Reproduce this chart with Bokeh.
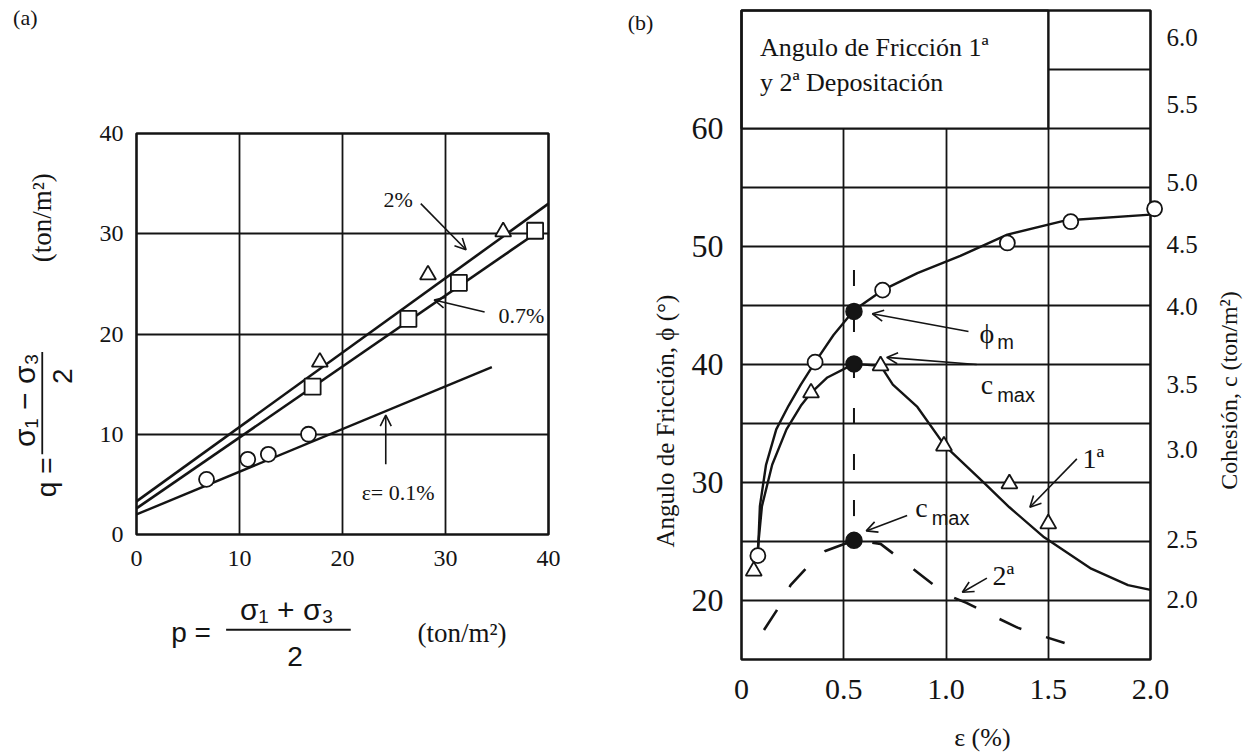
import math

from bokeh.core.properties import value
from bokeh.embed import file_html
from bokeh.layouts import row
from bokeh.models import Arrow, FixedTicker, LinearAxis, OpenHead, Range1d
from bokeh.plotting import figure
from bokeh.resources import INLINE

INK = "#141414"
SERIF = "Liberation Serif"
SANS = "Liberation Sans"

# ---------------- panel (a): q - p stress paths ----------------
a_ticks = [0, 10, 20, 30, 40]

# measured points, strain 0.1 %, 0.7 % and 2 %
p_circle = [6.8, 10.8, 12.8, 16.7]
q_circle = [5.5, 7.5, 8.0, 10.0]
p_square = [17.1, 26.4, 31.3, 38.7]
q_square = [14.75, 21.5, 25.1, 30.3]
p_triangle = [17.8, 28.3, 35.6]
q_triangle = [17.2, 25.9, 30.2]

# straight envelopes through each group (end points)
env_01_p = [0.0, 34.5]
env_01_q = [2.0, 16.7]
env_07_p = [0.0, 38.7]
env_07_q = [2.6, 30.0]
env_2_p = [0.0, 40.0]
env_2_q = [3.3, 33.0]

# ---------------- panel (b): friction angle and cohesion vs strain ----------------
b_x_ticks = [0, 0.5, 1.0, 1.5, 2.0]
b_x_labels = ["0", "0.5", "1.0", "1.5", "2.0"]
b_phi_ticks = [20, 30, 40, 50, 60]
b_phi_grid = [20, 25, 30, 35, 40, 45, 50, 55, 60, 65]
cohesion_labels = ["2.0", "2.5", "3.0", "3.5", "4.0", "4.5", "5.0", "5.5", "6.0"]
cohesion_label_at = [20.05, 25.2, 32.8, 38.3, 44.9, 50.2, 55.4, 62.0, 67.7]

# friction angle, measured
eps_phi = [0.08, 0.36, 0.69, 1.30, 1.61, 2.02]
phi_pts = [23.8, 40.2, 46.3, 50.3, 52.1, 53.2]
# friction angle, smooth trend
eps_phi_curve = [0.08, 0.09, 0.12, 0.17, 0.23, 0.29, 0.36, 0.45, 0.55, 0.69,
                 0.86, 1.07, 1.30, 1.58, 2.0]
phi_curve = [23.8, 28.0, 31.5, 34.5, 36.5, 38.3, 40.2, 42.5, 44.6, 46.3,
             47.75, 49.2, 51.0, 52.2, 52.7]

# cohesion, 1st deposition (drawn on the angle scale)
eps_c1 = [0.06, 0.34, 0.68, 0.99, 1.31, 1.50]
c1_pts = [22.5, 37.6, 39.9, 33.1, 29.9, 26.5]
eps_c1_curve = [0.075, 0.10, 0.15, 0.22, 0.29, 0.34, 0.42, 0.55, 0.68, 0.74,
                0.86, 0.995, 1.19, 1.31, 1.48, 1.71, 1.89, 2.0]
c1_curve = [23.5, 28.0, 31.5, 34.5, 36.5, 37.6, 38.9, 40.05, 39.9, 38.3,
            36.4, 33.1, 29.9, 27.9, 25.35, 22.7, 21.3, 20.9]

# cohesion, 2nd deposition (dashed trend)
eps_c2_curve = [0.11, 0.17, 0.24, 0.32, 0.41, 0.55, 0.68, 0.86, 1.0, 1.1,
                1.23, 1.35, 1.47, 1.58]
c2_curve = [17.5, 19.1, 21.3, 22.8, 24.2, 25.1, 24.8, 22.4, 20.5, 19.8,
            18.7, 17.7, 17.0, 16.4]

# peak values (filled): phi_m, c_max 1st, c_max 2nd
eps_peak = [0.55, 0.55, 0.55]
val_peak = [44.5, 40.05, 25.1]
eps_peak_line = [0.55, 0.55]
val_peak_line = [48.0, 27.0]


def canvas_ranges(width, height, box, x_span, y_span):
    """Ranges for a figure whose frame fills the canvas, so that the data
    box x_span x y_span lands on the pixel box (left, right, top, bottom)."""
    left, right, top, bottom = box
    kx = (x_span[1] - x_span[0]) / (right - left)
    ky = (y_span[1] - y_span[0]) / (bottom - top)
    xr = Range1d(x_span[0] - left * kx, x_span[1] + (width - right) * kx)
    yr = Range1d(y_span[0] - (height - bottom) * ky, y_span[1] + top * ky)
    return xr, yr


def make_panel(width, height, box, x_span, y_span):
    xr, yr = canvas_ranges(width, height, box, x_span, y_span)
    fig = figure(width=width, height=height, x_range=xr, y_range=yr,
                 output_backend="svg", toolbar_location=None,
                 min_border=0, min_border_left=0, min_border_right=0,
                 min_border_top=0, min_border_bottom=0)
    fig.outline_line_color = None
    fig.background_fill_color = "white"
    fig.border_fill_color = "white"
    fig.xaxis.fixed_location = x_span[0] * 0 + y_span[0]
    fig.yaxis.fixed_location = x_span[0]
    for g in fig.grid:
        g.grid_line_color = INK
        g.grid_line_width = 1.8
        g.grid_line_alpha = 1.0
    fig.xgrid.cross_bounds = (y_span[0], y_span[1])
    fig.ygrid.cross_bounds = (x_span[0], x_span[1])
    return fig


def style_axis(ax, size, standoff):
    ax.axis_line_color = None
    ax.major_tick_line_color = None
    ax.minor_tick_line_color = None
    ax.major_label_text_font = SERIF
    ax.major_label_text_font_size = size
    ax.major_label_text_color = INK
    ax.major_label_standoff = standoff


def frame_box(fig, x_span, y_span, width=2.6):
    fig.quad(left=[x_span[0]], right=[x_span[1]], bottom=[y_span[0]], top=[y_span[1]],
             fill_color=None, line_color=INK, line_width=width)


def txt(fig, x, y, text, size, font=SERIF, angle=0.0, align="center",
        baseline="middle"):
    fig.text(x=[x], y=[y], text=[text], text_font=value(font),
             text_font_size=f"{size}px", text_color=INK, angle=angle,
             text_align=align, text_baseline=baseline)


def arrow(fig, x0, y0, x1, y1, head=11, width=1.6):
    fig.add_layout(Arrow(end=OpenHead(size=head, line_color=INK, line_width=width),
                         x_start=x0, y_start=y0, x_end=x1, y_end=y1,
                         line_color=INK, line_width=width))


# ---------- figure (a) ----------
A_SPAN_X, A_SPAN_Y = (0, 40), (0, 40)
fa = make_panel(600, 755, (136, 548, 133, 534), A_SPAN_X, A_SPAN_Y)
fa.xaxis.ticker = FixedTicker(ticks=a_ticks)
fa.yaxis.ticker = FixedTicker(ticks=a_ticks)
fa.xgrid.ticker = FixedTicker(ticks=a_ticks[1:-1])
fa.ygrid.ticker = FixedTicker(ticks=a_ticks[1:-1])
style_axis(fa.xaxis[0], "24px", 10)
style_axis(fa.yaxis[0], "24px", 7)
frame_box(fa, A_SPAN_X, A_SPAN_Y)

fa.line(env_2_p, env_2_q, line_color=INK, line_width=2.6)
fa.line(env_07_p, env_07_q, line_color=INK, line_width=2.6)
fa.line(env_01_p, env_01_q, line_color=INK, line_width=2.4)
fa.scatter(p_circle, q_circle, marker="circle", size=15, fill_color="white",
           line_color=INK, line_width=1.8)
fa.scatter(p_square, q_square, marker="square", size=16, fill_color="white",
           line_color=INK, line_width=1.8)
fa.scatter(p_triangle, q_triangle, marker="triangle", size=16, fill_color="white",
           line_color=INK, line_width=1.8)

txt(fa, 25.4, 33.4, "2%", 22)
txt(fa, 39.6, 21.8, "0.7%", 22, align="right")
txt(fa, 25.4, 4.2, "\u03b5= 0.1%", 22)
arrow(fa, 27.6, 33.0, 32.0, 28.4)
arrow(fa, 33.8, 22.2, 28.9, 23.4)
arrow(fa, 24.2, 7.0, 24.2, 11.9)

# axis titles of (a): q = (s1 - s3)/2 and p = (s1 + s3)/2
up = math.pi / 2
txt(fa, -8.7, 5.7, "q =", 28, font=SANS, angle=up)
txt(fa, -10.9, 13.4, "\u03c3\u2081 \u2212 \u03c3\u2083", 30, font=SANS, angle=up)
fa.line([-9.15, -9.15], [8.0, 18.2], line_color=INK, line_width=1.8)
txt(fa, -7.2, 15.8, "2", 28, font=SANS, angle=up)
txt(fa, -9.2, 31.6, "(ton/m\u00b2)", 27, angle=up)

txt(fa, 5.3, -9.8, "p =", 28, font=SANS)
txt(fa, 14.6, -7.5, "\u03c3\u2081 + \u03c3\u2083", 30, font=SANS)
fa.line([8.7, 20.8], [-9.5, -9.5], line_color=INK, line_width=1.8)
txt(fa, 15.4, -12.2, "2", 28, font=SANS)
txt(fa, 31.6, -9.8, "(ton/m\u00b2)", 27)
txt(fa, -10.8, 51.6, "(a)", 22)

# ---------- figure (b) ----------
B_SPAN_X, B_SPAN_Y = (0, 2.0), (15, 70)
fb = make_panel(649, 755, (141, 550, 10, 659), B_SPAN_X, B_SPAN_Y)
fb.xaxis.ticker = FixedTicker(ticks=b_x_ticks)
fb.xaxis.major_label_overrides = dict(zip(b_x_ticks, b_x_labels))
fb.yaxis.ticker = FixedTicker(ticks=b_phi_ticks)
fb.xgrid.ticker = FixedTicker(ticks=b_x_ticks[1:-1])
fb.ygrid.ticker = FixedTicker(ticks=b_phi_grid)
right_axis = LinearAxis(ticker=FixedTicker(ticks=cohesion_label_at),
                        major_label_overrides=dict(zip(cohesion_label_at, cohesion_labels)),
                        fixed_location=B_SPAN_X[1])
fb.add_layout(right_axis, "right")
style_axis(fb.xaxis[0], "30px", 14)
style_axis(fb.yaxis[0], "32px", 12)
style_axis(right_axis, "25px", 10)

# caption box, drawn over the grid
fb.quad(left=[0.0], right=[1.5], bottom=[60.0], top=[70.0], fill_color="white",
        line_color=INK, line_width=2.2)
fb.text(x=[0.09, 0.09], y=[66.9, 63.9],
        text=["Angulo de Fricci\u00f3n 1\u00aa", "y 2\u00aa Depositaci\u00f3n"],
        text_font=value(SERIF), text_font_size="26px", text_color=INK,
        text_align="left", text_baseline="middle")
frame_box(fb, B_SPAN_X, B_SPAN_Y)

fb.line(eps_phi_curve, phi_curve, line_color=INK, line_width=2.4)
fb.line(eps_c1_curve, c1_curve, line_color=INK, line_width=2.4)
fb.line(eps_c2_curve, c2_curve, line_color=INK, line_width=2.6, line_dash="24 26")
fb.line(eps_peak_line, val_peak_line, line_color=INK, line_width=2.0, line_dash="16 30")

fb.scatter(eps_phi, phi_pts, marker="circle", size=15, fill_color="white",
           line_color=INK, line_width=1.8)
fb.scatter(eps_c1, c1_pts, marker="triangle", size=16, fill_color="white",
           line_color=INK, line_width=1.8)
fb.scatter(eps_peak, val_peak, marker="circle", size=16, fill_color=INK,
           line_color=INK, line_width=1.5)

# callouts
fb.text(x=[1.20, 1.20, 0.88, 1.72, 1.28], y=[42.6, 38.3, 27.9, 32.0, 22.1],
        text=["\u03d5", "c", "c", "1\u00aa", "2\u00aa"],
        text_font=value(SERIF), text_font_size="28px", text_color=INK,
        text_align="center", text_baseline="middle")
fb.text(x=[1.25, 1.25, 0.93], y=[41.9, 37.4, 27.0], text=["m", "max", "max"],
        text_font=value(SANS), text_font_size="20px", text_color=INK,
        text_align="left", text_baseline="middle")
arrow(fb, 1.11, 42.8, 0.64, 44.3)
arrow(fb, 1.15, 40.0, 0.71, 40.6)
arrow(fb, 0.81, 27.2, 0.61, 25.9)
arrow(fb, 1.64, 32.0, 1.41, 27.9)
arrow(fb, 1.20, 21.9, 1.08, 20.7)

txt(fb, -0.372, 35.2, "Angulo de Fricci\u00f3n, \u03d5 (\u00b0)", 25, angle=up)
txt(fb, 2.386, 38.05, "Cohesi\u00f3n, c  (ton/m\u00b2)", 24, angle=up)
txt(fb, 1.178, 8.4, "\u03b5 (%)", 26)
txt(fb, -0.494, 69.0, "(b)", 22)

layout = row(fa, fb)
open("out.html", "w").write(file_html(layout, INLINE))
